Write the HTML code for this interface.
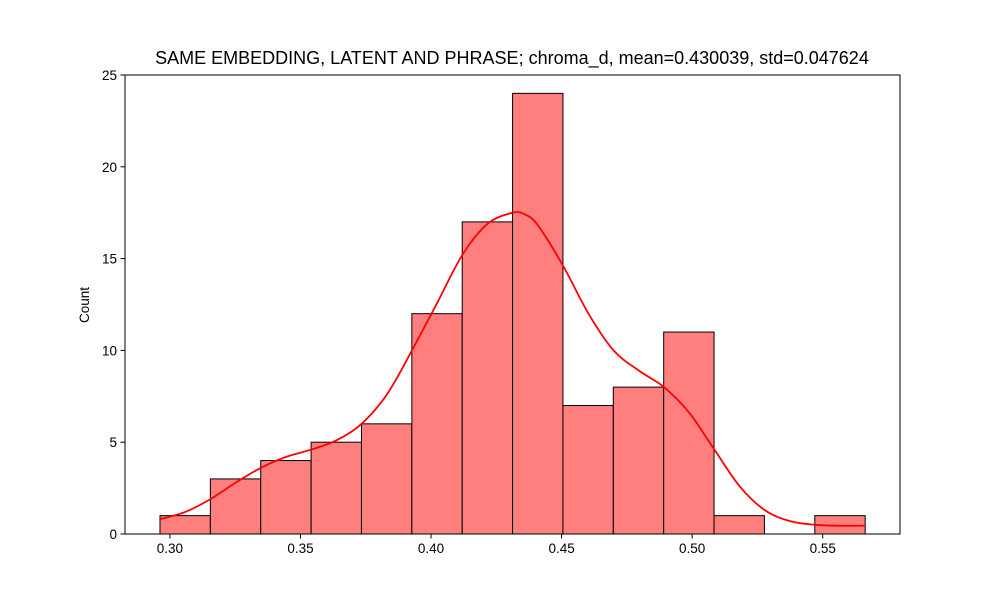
<!DOCTYPE html>
<html><head><meta charset="utf-8"><style>
body{margin:0;background:#fff;}
svg text{font-family:"Liberation Sans","DejaVu Sans",sans-serif;fill:#000;}
</style></head><body>
<svg id="chart" width="1000" height="600" xmlns="http://www.w3.org/2000/svg">
<rect width="1000" height="600" fill="#fff"/>
<text x="512" y="64" font-size="18" text-anchor="middle">SAME EMBEDDING, LATENT AND PHRASE; chroma_d, mean=0.430039, std=0.047624</text>
<text transform="translate(89,305) rotate(-90)" font-size="13.5" text-anchor="middle">Count</text>
<g id="bars"></g>
<g id="kde"></g>
<g id="axes"></g>
</svg>
<script>
const binStart = 0.2962;
const binWidth = 0.01929;
const counts = [1,3,4,5,6,12,17,24,7,8,11,1,0,1];
const kdeX = [0.2962,0.3059,0.3155,0.3252,0.3348,0.3445,0.3541,0.3638,0.3734,0.3831,0.3927,0.4024,0.4120,0.4217,0.4313,0.4361,0.4410,0.4506,0.4603,0.4699,0.4796,0.4892,0.4989,0.5085,0.5182,0.5278,0.5375,0.5471,0.5568,0.5662];
const kdeY = [0.8,1.2,1.9,2.8,3.6,4.2,4.6,5.1,6.0,7.6,10.0,12.6,15.2,16.9,17.5,17.4,16.8,14.6,12.0,10.0,8.9,8.0,6.6,4.6,2.6,1.3,0.7,0.5,0.45,0.45];
const xTicks = [0.30,0.35,0.40,0.45,0.50,0.55];
const yTicks = [0,5,10,15,20,25];

const L=125,R=900,T=75,B=534;
const xMin=0.2828,xMax=0.5796,yMax=25;
const sx=v=>L+(v-xMin)/(xMax-xMin)*(R-L);
const sy=v=>B-v/yMax*(B-T);
const NS="http://www.w3.org/2000/svg";
function mk(tag,attrs,parent){const e=document.createElementNS(NS,tag);for(const k in attrs)e.setAttribute(k,attrs[k]);parent.appendChild(e);return e;}
const bars=document.getElementById('bars');
counts.forEach((c,i)=>{
  if(c<=0)return;
  const x0=sx(binStart+i*binWidth),x1=sx(binStart+(i+1)*binWidth);
  const r=mk('rect',{x:x0,y:sy(c),width:x1-x0,height:sy(0)-sy(c),fill:'#ff7f7f',stroke:'#000','stroke-width':1},bars);
  
  
});
const pts=kdeX.map((x,i)=>[sx(x),sy(kdeY[i])]);
let d='M'+pts[0][0]+','+pts[0][1];
for(let i=0;i<pts.length-1;i++){
  const p0=pts[Math.max(0,i-1)],p1=pts[i],p2=pts[i+1],p3=pts[Math.min(pts.length-1,i+2)];
  const c1=[p1[0]+(p2[0]-p0[0])/6,p1[1]+(p2[1]-p0[1])/6];
  const c2=[p2[0]-(p3[0]-p1[0])/6,p2[1]-(p3[1]-p1[1])/6];
  d+=' C'+c1+' '+c2+' '+p2;
}
const kde=mk('path',{d:d,fill:'none',stroke:'#ff0000','stroke-width':1.8},document.getElementById('kde'));


const axes=document.getElementById('axes');
const frame=mk('rect',{x:L,y:T,width:R-L,height:B-T,fill:'none',stroke:'#000','stroke-width':1},axes);


xTicks.forEach(v=>{
  const x=sx(v);
  mk('line',{x1:x,x2:x,y1:B,y2:B+4.5,stroke:'#000'},axes);
  const t=mk('text',{x:x,y:B+19,'font-size':13.5,'text-anchor':'middle'},axes);
  t.textContent=v.toFixed(2);
  
  
});
yTicks.forEach(v=>{
  const y=sy(v);
  mk('line',{x1:L-4.5,x2:L,y1:y,y2:y,stroke:'#000'},axes);
  const t=mk('text',{x:L-8,y:y+5,'font-size':13.5,'text-anchor':'end'},axes);
  t.textContent=v;
  
  
});
</script>
</body></html>
